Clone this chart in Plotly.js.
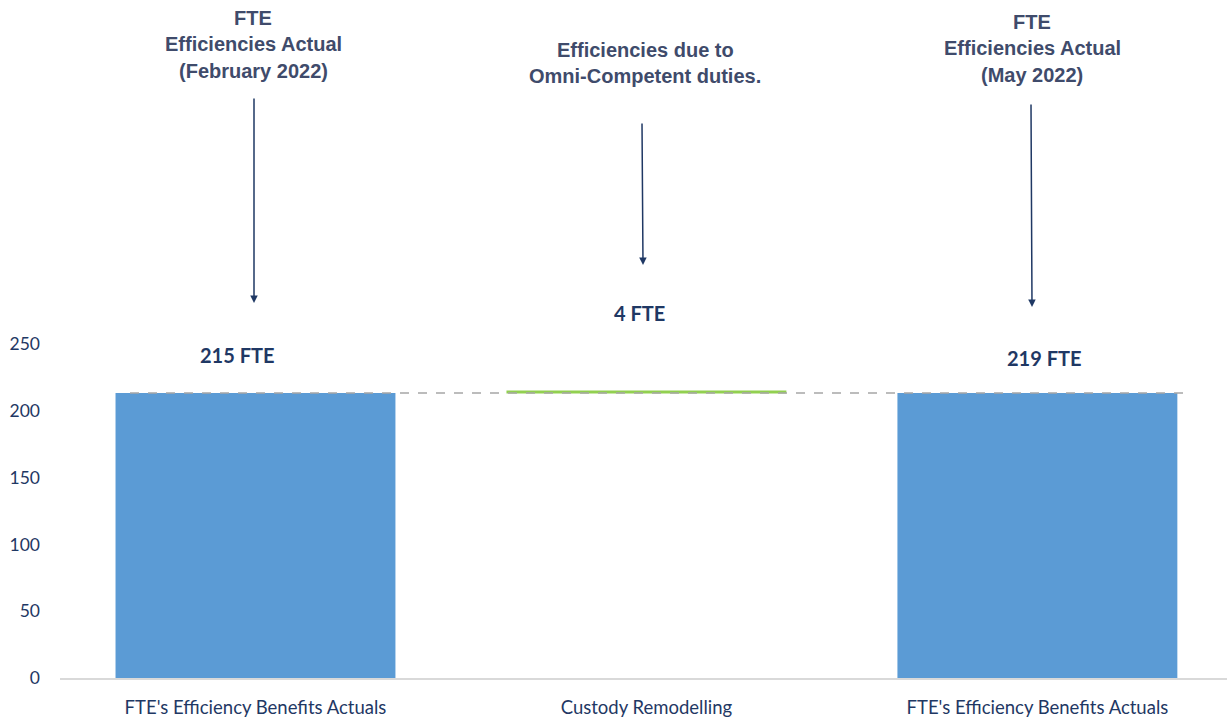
<!DOCTYPE html>
<html>
<head>
<meta charset="utf-8">
<script src="https://cdn.plot.ly/plotly-3.0.1.min.js"></script>
<style>html,body{margin:0;padding:0;background:#fff;}#chart{width:1227px;height:719px;}</style>
</head>
<body>
<div id="chart"></div>
<script>
// ---- data ----
const tickLabels = ["FTE's Efficiency Benefits Actuals", "Custody Remodelling", "FTE's Efficiency Benefits Actuals"];
const xPos = [0, 1, 2];
const barValues = [213.3, 2.2, 213.3];
const barBases = [0, 213.0, 0];
const barColors = ["#5B9BD5", "#92D050", "#5B9BD5"];
const connectorLevel = 213.3;
const valueLabels = ["215 FTE", "4 FTE", "219 FTE"];
const yTicks = [0, 50, 100, 150, 200, 250];
const note1 = ["FTE", "Efficiencies Actual", "(February 2022)"];
const note2 = ["Efficiencies due to", "Omni-Competent duties."];
const note3 = ["FTE", "Efficiencies Actual", "(May 2022)"];

// ---- layout helpers (pixel -> data) ----
const L = 60, W = 1227, H = 719, B = 41;
const xMin = -0.5, xMax = 2.485;
const pxPerUnitY = 334 / 250;
function toX(px) { return xMin + (px - L) / (W - L) * (xMax - xMin); }
function toY(py) { return (H - B - py) / pxPerUnitY; }

const navy = "#1F3864";
const noteColor = "#3F4B6B";

const annotations = [];
// value labels
const valPix = [[237, 355], [639, 313], [1044, 358]];
valueLabels.forEach((t, i) => {
  annotations.push({x: toX(valPix[i][0]), y: toY(valPix[i][1]), xref: 'x', yref: 'y', text: '<b>' + t + '</b>',
    showarrow: false, font: {family: 'Lato, sans-serif', size: 20, color: navy}, xanchor: 'center', yanchor: 'middle'});
});
// notes
function addNote(lines, cx, ys) {
  lines.forEach((t, i) => {
    annotations.push({x: toX(cx), y: toY(ys[i]), xref: 'x', yref: 'y', text: '<b>' + t + '</b>', showarrow: false,
      font: {family: 'Liberation Sans, Arial, sans-serif', size: 20, color: noteColor}, xanchor: 'center', yanchor: 'middle'});
  });
}
addNote(note1, 253, [18, 44, 71]);
addNote(note2, 645, [50, 76]);
addNote(note3, 1032, [22, 48, 75]);
// arrows
const arrows = [[254, 97, 254, 303], [642, 122, 643, 265], [1031, 103, 1032, 307]];
arrows.forEach(a => {
  annotations.push({x: toX(a[2]), y: toY(a[3]), ax: toX(a[0]), ay: toY(a[1]), xref: 'x', yref: 'y', axref: 'x', ayref: 'y',
    text: '', showarrow: true, arrowhead: 2, arrowsize: 1, arrowwidth: 1.5, arrowcolor: navy, standoff: 0, startstandoff: 0});
});

const trace = {
  type: 'bar', x: xPos, y: barValues, base: barBases, width: 0.716,
  marker: {color: barColors, line: {width: 0}}, hoverinfo: 'skip'
};

const layout = {
  width: W, height: H,
  margin: {l: L, r: 0, t: 0, b: B},
  paper_bgcolor: '#fff', plot_bgcolor: '#fff',
  showlegend: false,
  xaxis: {range: [xMin, xMax], tickvals: xPos, ticktext: tickLabels, showgrid: false, zeroline: false,
    showline: true, linecolor: '#D9D9D9', linewidth: 2, ticks: '', ticklabelstandoff: 12,
    tickfont: {family: 'Lato, sans-serif', size: 18.5, color: navy}, fixedrange: true},
  yaxis: {range: [0, (H - B) / pxPerUnitY], tickvals: yTicks, showgrid: false, zeroline: false, showline: false,
    ticks: '', ticklabelstandoff: 19, tickfont: {family: 'Lato, sans-serif', size: 17.5, color: navy}, fixedrange: true},
  shapes: [{type: 'line', xref: 'x', yref: 'y', x0: toX(130), x1: toX(1192), y0: connectorLevel, y1: connectorLevel,
    line: {color: '#A6A6A6', width: 1.5, dash: 'dash'}, layer: 'above'}],
  annotations: annotations
};

Plotly.newPlot('chart', [trace], layout, {displayModeBar: false, staticPlot: true});
</script>
</body>
</html>
